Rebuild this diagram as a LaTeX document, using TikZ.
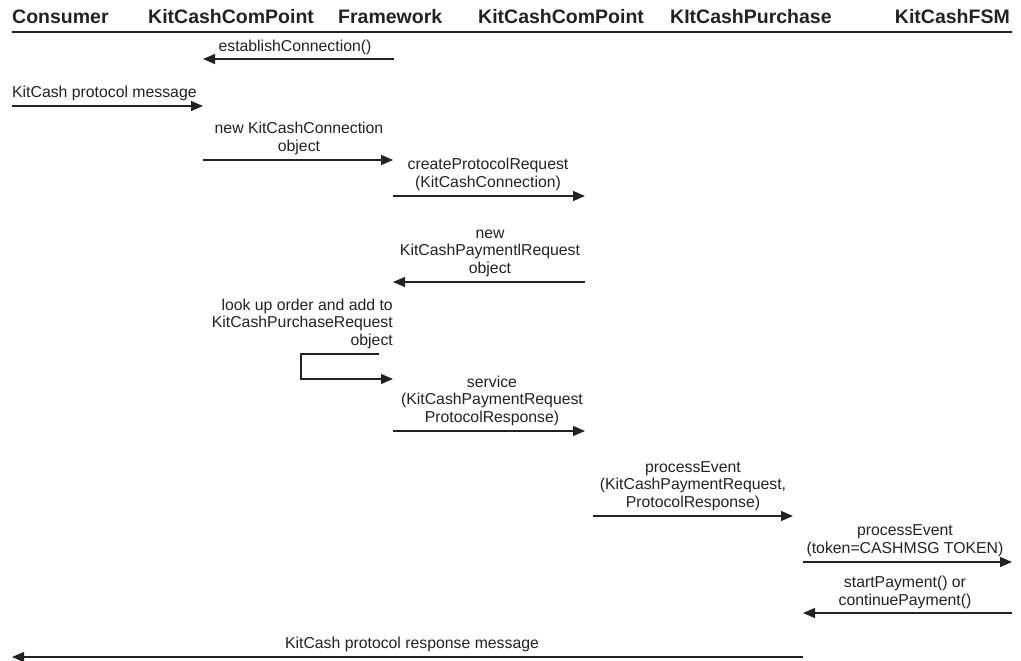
\documentclass[tikz,border=0pt]{standalone}
\usepackage{fontspec}
\setmainfont{Liberation Sans}
\usetikzlibrary{arrows.meta}
\definecolor{ink}{HTML}{222222}
\tikzset{
  hdr/.style={font=\fontsize{19.5}{22}\selectfont\bfseries, text=ink, inner sep=0pt},
  lbl/.style={font=\fontsize{15.8}{17.6}\selectfont, text=ink, inner sep=0pt, align=center},
  msg/.style={draw=ink, line width=1.1pt, -{Triangle[length=12pt,width=10pt]}},
}
\begin{document}
\begin{tikzpicture}[x=1pt,y=-1pt]
\useasboundingbox (0,0) rectangle (1021,661);

% participants
\node[hdr, anchor=base west] (consumer) at (12,24) {Consumer};
\node[hdr, anchor=base west] (cp1) at (148,24) {KitCashComPoint};
\node[hdr, anchor=base west] (fw) at (338,24) {Framework};
\node[hdr, anchor=base west] (cp2) at (478,24) {KitCashComPoint};
\node[hdr, anchor=base west] (pur) at (670,24) {KItCashPurchase};
\node[hdr, anchor=base east] (fsm) at (1010,24) {KitCashFSM};
\coordinate (hl) at (12,32);
\coordinate (hr) at (1012,32);
\draw[ink, line width=2pt] (hl) -- (hr);

% message end points
\coordinate (m1s) at (394,59);  \coordinate (m1e) at (203,59);
\coordinate (m2s) at (12,106);  \coordinate (m2e) at (203,106);
\coordinate (m3s) at (203,160); \coordinate (m3e) at (393,160);
\coordinate (m4s) at (393,196); \coordinate (m4e) at (585,196);
\coordinate (m5s) at (585,282); \coordinate (m5e) at (393,282);
\coordinate (m6s) at (379,354); \coordinate (m6a) at (301,354);
\coordinate (m6b) at (301,379); \coordinate (m6e) at (393,379);
\coordinate (m7s) at (393,431); \coordinate (m7e) at (585,431);
\coordinate (m8s) at (593,516); \coordinate (m8e) at (793,516);
\coordinate (m9s) at (803,562); \coordinate (m9e) at (1012,562);
\coordinate (m10s) at (1012,613); \coordinate (m10e) at (803,613);
\coordinate (m11s) at (803,657); \coordinate (m11e) at (12,657);

% messages
\draw[msg] (m1s) -- (m1e);
\draw[msg] (m2s) -- (m2e);
\draw[msg] (m3s) -- (m3e);
\draw[msg] (m4s) -- (m4e);
\draw[msg] (m5s) -- (m5e);
\draw[msg] (m6s) -- (m6a) -- (m6b) -- (m6e);
\draw[msg] (m7s) -- (m7e);
\draw[msg] (m8s) -- (m8e);
\draw[msg] (m9s) -- (m9e);
\draw[msg] (m10s) -- (m10e);
\draw[msg] (m11s) -- (m11e);

% message labels
\node[lbl, anchor=south] (l1) at (295,55) {establishConnection()};
\node[lbl, anchor=south west] (l2) at (12,101) {KitCash protocol message};
\node[lbl, anchor=south] (l3) at (299,155) {new KitCashConnection\\object};
\node[lbl, anchor=south] (l4) at (488,191) {createProtocolRequest\\(KitCashConnection)};
\node[lbl, anchor=south] (l5) at (490,277) {new\\KitCashPaymentlRequest\\object};
\node[lbl, anchor=south east, align=right] (l6) at (393,349) {look up order and add to\\KitCashPurchaseRequest\\object};
\node[lbl, anchor=south] (l7) at (492,426) {service\\(KitCashPaymentRequest\\ProtocolResponse)};
\node[lbl, anchor=south] (l8) at (693,511) {processEvent\\(KitCashPaymentRequest,\\ProtocolResponse)};
\node[lbl, anchor=south] (l9) at (905,557) {processEvent\\(token=CASHMSG TOKEN)};
\node[lbl, anchor=south] (l10) at (905,609) {startPayment() or\\continuePayment()};
\node[lbl, anchor=south] (l11) at (412,652) {KitCash protocol response message};
\end{tikzpicture}
\end{document}
